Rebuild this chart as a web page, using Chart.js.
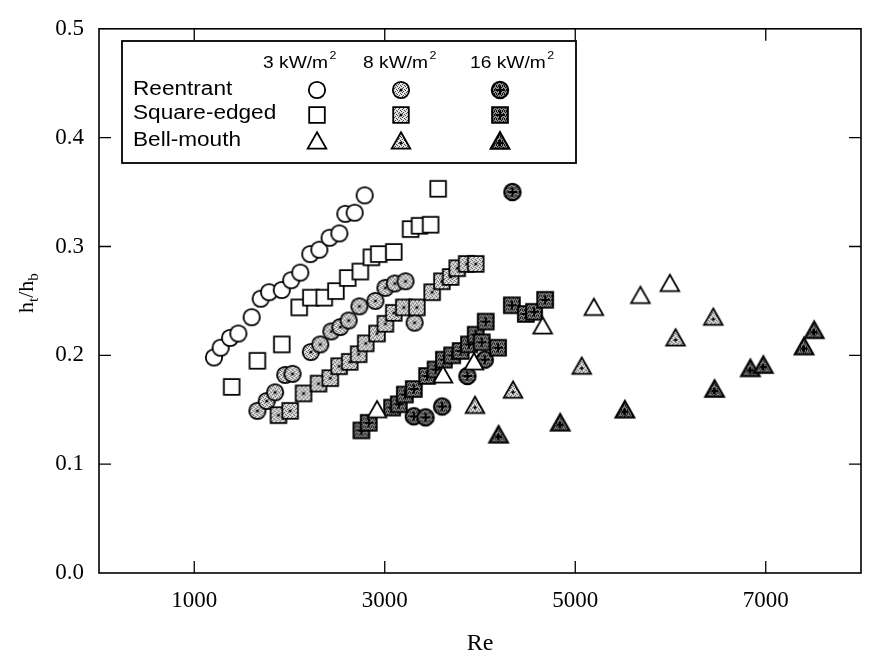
<!DOCTYPE html>
<html><head><meta charset="utf-8">
<script src="https://cdn.jsdelivr.net/npm/chart.js@4.4.0/dist/chart.umd.min.js"></script>
<style>html,body{margin:0;padding:0;background:#fff;}canvas{display:block;}</style>
</head><body>
<canvas id="c" width="872" height="664"></canvas>
<script>
// ---- tick labels / categories ----
const xTicks = [1000, 3000, 5000, 7000];
const yTicks = [0, 0.1, 0.2, 0.3, 0.4, 0.5];
const fluxLabels = ['3 kW/m', '8 kW/m', '16 kW/m'];
const inletLabels = ['Reentrant', 'Square-edged', 'Bell-mouth'];

// ---- series values [Re, ht/hb] ----
const reentrant3 = [[1207,0.198],[1277,0.207],[1376,0.216],[1463,0.220],[1603,0.235],[1698,0.252],[1786,0.258],[1919,0.260],[2018,0.269],[2113,0.276],[2218,0.293],[2313,0.297],[2421,0.308],[2523,0.312],[2586,0.330],[2684,0.331],[2789,0.347]];
const reentrant8 = [[1663,0.149],[1761,0.158],[1849,0.166],[1955,0.182],[2032,0.183],[2224,0.203],[2323,0.210],[2439,0.222],[2534,0.226],[2621,0.232],[2734,0.245],[2902,0.250],[3007,0.262],[3105,0.266],[3218,0.268],[3313,0.230]];
const reentrant16 = [[3305,0.144],[3428,0.143],[3603,0.153],[3868,0.181],[4050,0.196],[4340,0.350]];
const squareEdged3 = [[1393,0.171],[1663,0.195],[1919,0.210],[2102,0.244],[2224,0.253],[2365,0.253],[2487,0.259],[2611,0.271],[2744,0.277],[2860,0.290],[2937,0.293],[3095,0.295],[3271,0.316],[3365,0.319],[3481,0.320],[3561,0.353]];
const squareEdged8 = [[1884,0.145],[2007,0.149],[2147,0.165],[2305,0.174],[2428,0.179],[2521,0.190],[2632,0.194],[2726,0.201],[2800,0.211],[2919,0.220],[3007,0.229],[3095,0.239],[3200,0.244],[3337,0.244],[3498,0.258],[3600,0.268],[3692,0.272],[3761,0.280],[3860,0.284],[3955,0.284]];
const squareEdged16 = [[2755,0.131],[2832,0.138],[3077,0.152],[3147,0.155],[3211,0.164],[3305,0.169],[3445,0.181],[3534,0.187],[3621,0.196],[3708,0.200],[3797,0.204],[3884,0.210],[3955,0.219],[4018,0.212],[4060,0.231],[4189,0.207],[4334,0.246],[4481,0.238],[4568,0.240],[4684,0.251]];
const bellMouth3 = [[2919,0.150],[3611,0.182],[3937,0.194],[4658,0.227],[5195,0.244],[5684,0.255],[5993,0.266]];
const bellMouth8 = [[3947,0.154],[4347,0.168],[5068,0.190],[6053,0.216],[6449,0.235]];
const bellMouth16 = [[4195,0.127],[4842,0.138],[5521,0.150],[6463,0.169],[6839,0.188],[6975,0.191],[7402,0.208],[7509,0.223]];

// ---- marker images ----
function makePattern(g, base, dot, pts) {
  const p = document.createElement('canvas'); p.width = 4; p.height = 4;
  const q = p.getContext('2d');
  q.fillStyle = base; q.fillRect(0, 0, 4, 4);
  q.fillStyle = dot; pts.forEach(([a, b]) => q.fillRect(a, b, 1, 1));
  return g.createPattern(p, 'repeat');
}
function makeMarker(shape, level) {
  const S = 24, c = S / 2;
  const cv = document.createElement('canvas'); cv.width = S; cv.height = S;
  const g = cv.getContext('2d');
  g.beginPath();
  if (shape === 'circle') g.arc(c, c, 8.2, 0, Math.PI * 2);
  else if (shape === 'square') g.rect(c - 7.8, c - 7.8, 15.6, 15.6);
  else { g.moveTo(c, c - 8.8); g.lineTo(c + 9.3, c + 7.6); g.lineTo(c - 9.3, c + 7.6); g.closePath(); }
  if (level === 0) g.fillStyle = '#fff';
  else if (level === 1) g.fillStyle = makePattern(g, '#e2e2e2', '#444', [[0,0],[2,1],[1,2],[3,3]]);
  else g.fillStyle = makePattern(g, '#8e8e8e', '#111', [[0,0],[2,0],[1,1],[3,2],[0,3],[2,3]]);
  g.fill();
  g.lineWidth = level === 2 ? 2.1 : 1.8; g.strokeStyle = '#000'; g.stroke();
  const cy = shape === 'triangle' ? c + 2 : c;
  if (level === 1) { g.fillStyle = '#000'; g.beginPath(); g.arc(c, cy, 1.6, 0, Math.PI * 2); g.fill(); }
  if (level === 2) {
    const a = shape === 'triangle' ? 3.5 : 4.5;
    g.lineWidth = 2; g.beginPath();
    g.moveTo(c - a, cy); g.lineTo(c + a, cy); g.moveTo(c, cy - a); g.lineTo(c, cy + a); g.stroke();
  }
  return cv;
}
const shapes = ['circle', 'square', 'triangle'];
const markers = shapes.map(s => [0, 1, 2].map(l => makeMarker(s, l)));

// draw order: first dataset ends up on top
const series = [
  [bellMouth3, 2, 0], [bellMouth8, 2, 1], [bellMouth16, 2, 2],
  [squareEdged3, 1, 0], [squareEdged8, 1, 1], [squareEdged16, 1, 2],
  [reentrant3, 0, 0], [reentrant8, 0, 1], [reentrant16, 0, 2]
];

function sText(ctx, str, x, y, font, sx) {
  ctx.save(); ctx.translate(x, y); ctx.scale(sx, 1); ctx.font = font;
  ctx.fillText(str, 0, 0); const w = ctx.measureText(str).width * sx; ctx.restore(); return w;
}

const decor = {
  id: 'decor',
  afterDraw(chart) {
    const { ctx, chartArea: a, scales: { x, y } } = chart;
    ctx.save();
    ctx.strokeStyle = '#000'; ctx.fillStyle = '#000';
    // frame
    ctx.lineWidth = 1.6;
    ctx.strokeRect(a.left, a.top, a.right - a.left, a.bottom - a.top);
    // inward ticks
    ctx.lineWidth = 1.3; const L = 12;
    ctx.beginPath();
    xTicks.forEach(v => { const px = x.getPixelForValue(v);
      ctx.moveTo(px, a.bottom); ctx.lineTo(px, a.bottom - L);
      ctx.moveTo(px, a.top); ctx.lineTo(px, a.top + L); });
    yTicks.forEach(v => { if (v <= y.min || v >= y.max) return; const py = y.getPixelForValue(v);
      ctx.moveTo(a.left, py); ctx.lineTo(a.left + L, py);
      ctx.moveTo(a.right, py); ctx.lineTo(a.right - L, py); });
    ctx.stroke();
    // legend box
    ctx.fillStyle = '#fff'; ctx.fillRect(122, 41, 454, 122);
    ctx.lineWidth = 1.8; ctx.strokeRect(122, 41, 454, 122);
    ctx.fillStyle = '#000'; ctx.textAlign = 'left'; ctx.textBaseline = 'alphabetic';
    const colX = [263, 363, 470];
    fluxLabels.forEach((t, i) => {
      const w = sText(ctx, t, colX[i], 68, '17px "Liberation Sans"', 1.13);
      sText(ctx, '2', colX[i] + w + 1.5, 59, '11px "Liberation Sans"', 1.13);
    });
    const rowY = [95, 119, 146];
    const symX = [317, 401, 500], symY = [90, 115, 141];
    inletLabels.forEach((t, r) => {
      sText(ctx, t, 133, rowY[r], '20px "Liberation Sans"', 1.13);
      for (let l = 0; l < 3; l++) {
        const m = markers[r][l];
        ctx.drawImage(m, symX[l] - m.width / 2, symY[r] - m.height / 2);
      }
    });
    // axis titles
    ctx.textAlign = 'center';
    ctx.font = '24px "Liberation Serif"';
    ctx.fillText('Re', (a.left + a.right) / 2, 650);
    ctx.save(); ctx.translate(33, 292); ctx.rotate(-Math.PI / 2); ctx.textAlign = 'left';
    let cx = -21;
    const big = '22px "Liberation Serif"', small = '15px "Liberation Serif"';
    [['h', big, 0], ['t', small, 5], ['/', big, 0], ['h', big, 0], ['b', small, 5]].forEach(([s, f, dy]) => {
      ctx.font = f; ctx.fillText(s, cx, dy); cx += ctx.measureText(s).width;
    });
    ctx.restore();
    ctx.restore();
  }
};

new Chart(document.getElementById('c'), {
  type: 'scatter',
  data: {
    datasets: series.map(([d, s, l]) => ({
      data: d.map(([px, py]) => ({ x: px, y: py })),
      pointStyle: markers[s][l], pointRadius: 9, pointHoverRadius: 9, showLine: false
    }))
  },
  options: {
    responsive: false, animation: false, devicePixelRatio: 1,
    layout: { padding: { left: 0, right: 11, top: 22, bottom: 0 } },
    plugins: { legend: { display: false }, tooltip: { enabled: false } },
    scales: {
      x: {
        type: 'linear', min: 0, max: 8000,
        afterBuildTicks: s => { s.ticks = xTicks.map(v => ({ value: v })); },
        afterFit: s => { s.height = 91; },
        grid: { display: false, drawTicks: false }, border: { display: false },
        ticks: { color: '#000', font: { family: '"Liberation Serif"', size: 23 }, padding: 14, maxRotation: 0, autoSkip: false, callback: v => String(v) }
      },
      y: {
        min: 0, max: 0.5,
        afterBuildTicks: s => { s.ticks = yTicks.map(v => ({ value: v })); },
        afterFit: s => { s.width = 99; },
        grid: { display: false, drawTicks: false }, border: { display: false },
        ticks: { color: '#000', font: { family: '"Liberation Serif"', size: 23 }, padding: 15, callback: v => Number(v).toFixed(1) }
      }
    }
  },
  plugins: [decor]
});
</script>
</body></html>
